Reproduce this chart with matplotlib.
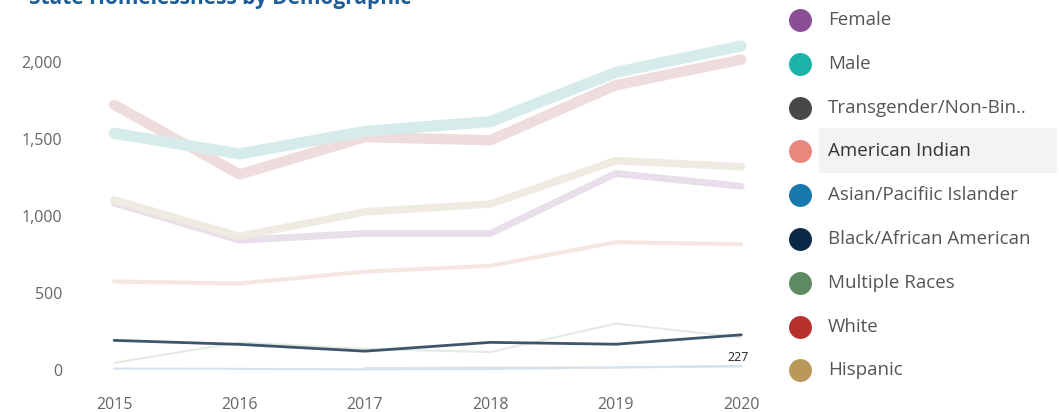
import numpy as np
import matplotlib.pyplot as plt
from matplotlib.patches import Rectangle

plt.rcParams['font.family'] = ['Open Sans', 'DejaVu Sans']

# data
years = [2015, 2016, 2017, 2018, 2019, 2020]

male = [1535, 1401, 1548, 1611, 1930, 2102]
white = [1720, 1268, 1510, 1490, 1847, 2013]
hispanic = [1102, 866, 1025, 1076, 1357, 1318]
female = [1083, 841, 885, 885, 1274, 1191]
american_indian = [573, 560, 637, 675, 828, 815]
black = [191, 165, 121, 178, 166, 227]
multiple_races = [45, 178, 135, 115, 300, 210]
asian = [8, 6, 3, 5, 15, 25]
trans_years = [2017, 2018, 2019, 2020]
transgender = [12, 14, 16, 22]

legend_labels = ['Female', 'Male', 'Transgender/Non-Bin..', 'American Indian',
                 'Asian/Pacifiic Islander', 'Black/African American',
                 'Multiple Races', 'White', 'Hispanic']
legend_colors = ['#8a4e97', '#1bb3aa', '#484848', '#e8877b', '#1877ab',
                 '#0b2946', '#5f8b62', '#b8302d', '#b9985a']

fig = plt.figure(figsize=(10.59, 4.12), dpi=100)

ax = fig.add_axes([0.09, 0.08, 0.63, 0.92])
# faded (non highlighted) series
ax.plot(trans_years, transgender, color='#e2e2e2', lw=1.5, solid_capstyle='round')
ax.plot(years, asian, color='#d6e3ec', lw=1.5, solid_capstyle='round')
ax.plot(years, multiple_races, color='#e3ebe2', lw=1.5, solid_capstyle='round')
ax.plot(years, american_indian, color='#f6e6e3', lw=3, solid_capstyle='round')
ax.plot(years, female, color='#e8dfea', lw=5, solid_capstyle='round')
ax.plot(years, hispanic, color='#efebe2', lw=5.5, solid_capstyle='round')
ax.plot(years, white, color='#efdcdc', lw=7.5, solid_capstyle='round')
ax.plot(years, male, color='#d5ecea', lw=8, solid_capstyle='round')
# highlighted series
ax.plot(years, black, color='#3f5569', lw=2, solid_capstyle='round')
ax.annotate(f'{black[-1]}', (years[-1], black[-1]), xytext=(-2, -12),
            textcoords='offset points', ha='center', va='top', fontsize=9, color='#222222')

ax.set_xlim(2014.85, 2020.17)
ax.set_ylim(-60, 2400)
ax.set_xticks(years)
ax.set_yticks([0, 500, 1000, 1500, 2000])
ax.set_yticklabels(['0', '500', '1,000', '1,500', '2,000'])
ax.tick_params(length=0, labelsize=11.5, colors='#666666')
ax.tick_params(axis='y', pad=24)
ax.tick_params(axis='x', labelsize=11.5, pad=13)
for s in ax.spines.values():
    s.set_visible(False)

fig.text(0.027, 1 - 4 / 412, 'State Homelessness by Demographic', fontsize=15, fontweight='bold',
         color='#1c5d9a', va='baseline', ha='left')

# legend
lax = fig.add_axes([0, 0, 1, 1], facecolor='none')
lax.set_xlim(0, 1059)
lax.set_ylim(412, 0)
lax.axis('off')
lax.add_patch(Rectangle((819, 128), 238, 45, color='#f3f3f3', lw=0))
for i, (lab, col) in enumerate(zip(legend_labels, legend_colors)):
    y = 20 + i * 43.8
    lax.plot(800, y, 'o', ms=15.5, color=col)
    lax.text(828, y, lab, fontsize=13.5, color='#555555' if i != 3 else '#333333', va='center')

fig.savefig('out.png', dpi=100)
